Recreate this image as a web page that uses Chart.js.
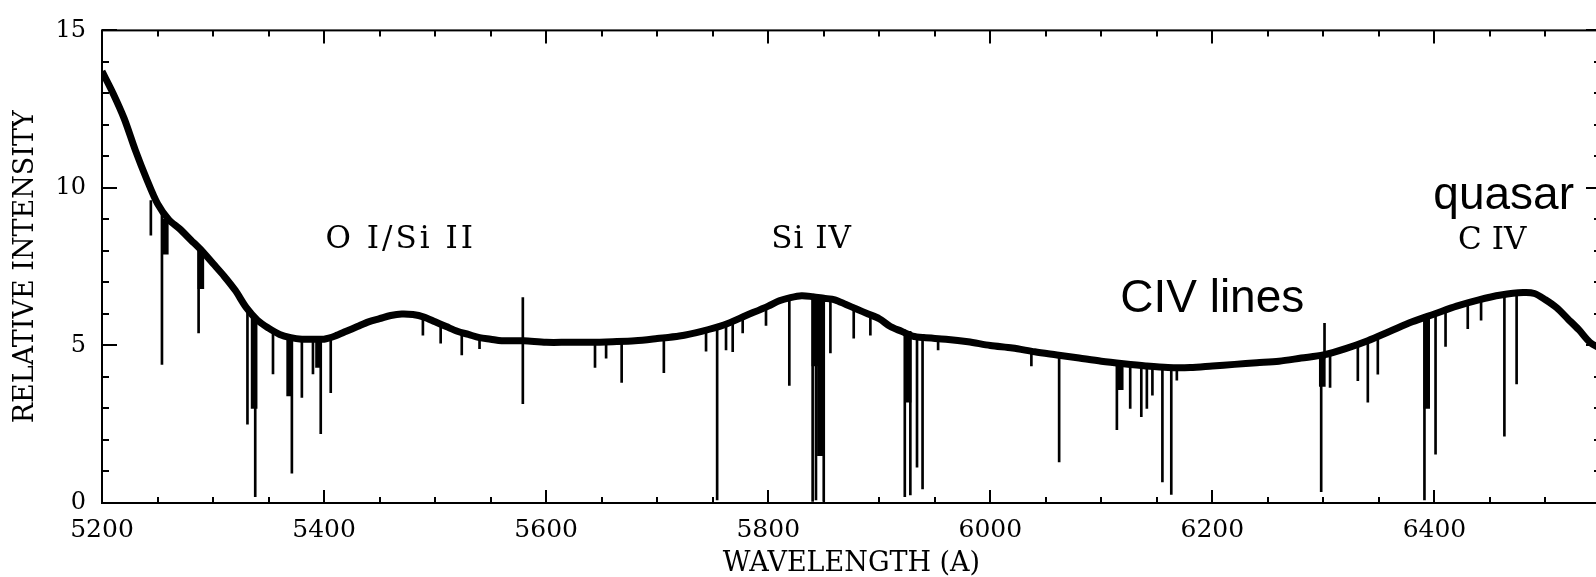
<!DOCTYPE html>
<html>
<head>
<meta charset="utf-8">
<title>Quasar spectrum</title>
<script src="https://cdn.jsdelivr.net/npm/chart.js@4.4.1/dist/chart.umd.min.js"></script>
<style>
  html, body { margin: 0; padding: 0; background: #fff; overflow: hidden; }
  .chart-wrap { position: absolute; left: 0; top: 0; width: 1612px; height: 577px; }
</style>
</head>
<body>
<div class="chart-wrap"><canvas id="spectrumChart"></canvas></div>
<script>
  // continuum of the spectrum (wavelength in A, relative intensity)
  const contWave = [5200, 5210, 5220, 5230, 5240, 5250, 5260, 5270, 5280, 5290,
    5300, 5310, 5320, 5330, 5340, 5350, 5360, 5370, 5380, 5390,
    5400, 5410, 5420, 5430, 5440, 5450, 5460, 5470, 5480, 5490,
    5500, 5510, 5520, 5530, 5540, 5550, 5560, 5570, 5580, 5600,
    5620, 5640, 5660, 5680, 5700, 5720, 5740, 5760, 5780, 5800,
    5810, 5820, 5830, 5840, 5850, 5860, 5870, 5880, 5890, 5900,
    5910, 5920, 5930, 5940, 5960, 5980, 6000, 6020, 6040, 6060,
    6080, 6100, 6120, 6140, 6160, 6180, 6200, 6220, 6240, 6260,
    6280, 6300, 6320, 6340, 6360, 6380, 6400, 6420, 6440, 6460,
    6480, 6490, 6500, 6510, 6520, 6530, 6540, 6550];
  const contFlux = [13.7, 13.0, 12.2, 11.2, 10.3, 9.5, 9.0, 8.7, 8.35, 8.0,
    7.6, 7.2, 6.75, 6.2, 5.8, 5.55, 5.35, 5.25, 5.2, 5.2,
    5.2, 5.3, 5.45, 5.6, 5.75, 5.85, 5.95, 6.0, 5.98, 5.9,
    5.75, 5.6, 5.45, 5.35, 5.25, 5.2, 5.15, 5.15, 5.15, 5.1,
    5.1, 5.1, 5.12, 5.15, 5.22, 5.3, 5.45, 5.65, 5.95, 6.25,
    6.42, 6.52, 6.58, 6.55, 6.5, 6.45, 6.3, 6.15, 6.0, 5.85,
    5.6, 5.45, 5.3, 5.25, 5.2, 5.12, 5.0, 4.92, 4.8, 4.7,
    4.6, 4.5, 4.42, 4.35, 4.3, 4.3, 4.35, 4.4, 4.45, 4.5,
    4.6, 4.7, 4.9, 5.15, 5.45, 5.75, 6.0, 6.25, 6.45, 6.6,
    6.68, 6.65, 6.45, 6.2, 5.85, 5.5, 5.1, 4.9];

  // narrow absorption lines: wavelength, bottom, top
  const lineWave = [5244, 5254, 5287, 5331, 5338, 5354, 5371, 5380, 5390, 5397,
    5406, 5489, 5505, 5524, 5540, 5579, 5644, 5654, 5668, 5706,
    5744, 5754, 5762, 5768, 5777, 5798, 5819, 5840, 5843, 5850,
    5856, 5877, 5892, 5923, 5928, 5934, 5939, 5953, 6037, 6062,
    6114, 6126, 6136, 6141, 6146, 6155, 6163, 6168, 6298, 6301,
    6306, 6331, 6340, 6349, 6391, 6401, 6410, 6430, 6442, 6463, 6474];
  const lineLow = [8.5, 4.4, 5.4, 2.5, 0.2, 4.1, 0.95, 3.35, 4.1, 2.2,
    3.5, 5.33, 5.07, 4.7, 4.9, 3.15, 4.3, 4.6, 3.83, 4.14,
    4.82, 0.1, 4.86, 4.8, 5.4, 5.64, 3.73, 0.05, 0.1, 0.05,
    4.76, 5.23, 5.33, 0.2, 0.26, 1.14, 0.45, 4.86, 4.35, 1.3,
    2.33, 3.0, 2.74, 3.0, 3.42, 0.67, 0.27, 3.9, 0.36, 4.6,
    3.67, 3.88, 3.2, 4.09, 0.1, 1.55, 4.97, 5.53, 5.8, 2.12, 3.78];
  const lineHigh = [9.6, 9.2, 8.1, 6.2, 5.9, 5.5, 5.3, 5.2, 5.2, 5.2,
    5.3, 5.9, 5.7, 5.45, 5.3, 6.52, 5.1, 5.1, 5.15, 5.25,
    5.5, 5.55, 5.65, 5.75, 5.9, 6.25, 6.5, 6.6, 6.6, 6.55,
    6.5, 6.2, 6.0, 5.5, 5.4, 5.3, 5.3, 5.25, 4.85, 4.7,
    4.45, 4.4, 4.35, 4.35, 4.35, 4.3, 4.3, 4.3, 4.7, 5.7,
    4.75, 5.1, 5.2, 5.35, 5.9, 6.0, 6.15, 6.35, 6.45, 6.6, 6.65];

  // broad, blended absorption troughs
  const troughWave = [5257, 5289, 5337, 5369, 5395, 5842, 5847, 5926, 6117, 6299, 6393];
  const troughLow = [7.9, 6.8, 3.0, 3.4, 4.3, 4.35, 1.5, 3.2, 3.6, 3.7, 3.0];
  const troughHigh = [9.0, 8.0, 5.9, 5.3, 5.2, 6.6, 6.55, 5.45, 4.45, 4.7, 5.95];

  const xTicks = [5200, 5400, 5600, 5800, 6000, 6200, 6400];
  const yTicks = [0, 5, 10, 15];

  const labels = [
    { text: "O I/Si II", x: 5469, y: 8.36, font: "31px 'DejaVu Serif'", spacing: "3px", align: "center", baseline: "middle" },
    { text: "Si IV", x: 5839, y: 8.36, font: "31px 'DejaVu Serif'", spacing: "1px", align: "center", baseline: "middle" },
    { text: "C IV", x: 6452, y: 8.33, font: "31px 'DejaVu Serif'", spacing: "0px", align: "center", baseline: "middle" },
    { text: "CIV lines", x: 6117, y: 6.07, font: "46px 'Liberation Sans'", spacing: "0px", align: "left", baseline: "alphabetic" },
    { text: "quasar", x: 6399, y: 9.33, font: "46px 'Liberation Sans'", spacing: "0px", align: "left", baseline: "alphabetic" },
  ];

  const ink = "#000";
  const serif = "'DejaVu Serif', serif";

  const frameTicks = {
    id: "frameTicks",
    afterDatasetsDraw(chart) {
      const { ctx, chartArea: a, scales } = chart;
      const x = scales.x;
      const y = scales.y;
      ctx.save();
      ctx.strokeStyle = ink;
      ctx.lineWidth = 2;
      ctx.strokeRect(a.left, a.top, a.right - a.left, a.bottom - a.top);
      ctx.beginPath();
      for (let w = 5200; w <= 6550; w += 50) {
        const px = Math.round(x.getPixelForValue(w));
        const len = w % 200 === 0 ? 13 : 6;
        ctx.moveTo(px, a.bottom);
        ctx.lineTo(px, a.bottom - len);
        ctx.moveTo(px, a.top);
        ctx.lineTo(px, a.top + len);
      }
      for (let v = 0; v <= 15; v += 1) {
        const py = Math.round(y.getPixelForValue(v));
        const len = v % 5 === 0 ? 15 : 7;
        ctx.moveTo(a.left, py);
        ctx.lineTo(a.left + len, py);
        ctx.moveTo(a.right, py);
        ctx.lineTo(a.right - len, py);
      }
      ctx.stroke();
      ctx.restore();
    },
  };

  const textLabels = {
    id: "textLabels",
    afterDraw(chart) {
      const { ctx, scales } = chart;
      ctx.save();
      ctx.fillStyle = ink;
      labels.forEach((l) => {
        ctx.font = l.font;
        ctx.letterSpacing = l.spacing;
        ctx.textAlign = l.align;
        ctx.textBaseline = l.baseline;
        ctx.fillText(l.text, scales.x.getPixelForValue(l.x), scales.y.getPixelForValue(l.y));
      });
      ctx.restore();
    },
  };

  document.addEventListener("DOMContentLoaded", function () {
    const ctx = document.getElementById("spectrumChart");

    new Chart(ctx, {
      type: "line",
      data: {
        datasets: [
          {
            label: "Spectrum",
            data: contWave.map((w, i) => ({ x: w, y: contFlux[i] })),
            borderColor: ink,
            borderWidth: 7,
            borderJoinStyle: "round",
            pointRadius: 0,
            tension: 0.3,
            fill: false,
          },
          {
            type: "bar",
            label: "Lines",
            data: lineWave.map((w, i) => ({ x: w, y: [lineLow[i], lineHigh[i]] })),
            backgroundColor: ink,
            barThickness: 2,
            grouped: false,
          },
          {
            type: "bar",
            label: "Troughs",
            data: troughWave.map((w, i) => ({ x: w, y: [troughLow[i], troughHigh[i]] })),
            backgroundColor: ink,
            barThickness: 6,
            grouped: false,
          },
        ],
      },
      options: {
        responsive: true,
        maintainAspectRatio: false,
        animation: false,
        layout: { padding: { top: 20, right: 11, left: 0, bottom: 0 } },
        plugins: {
          legend: { display: false },
          tooltip: { enabled: false },
        },
        scales: {
          x: {
            type: "linear",
            min: 5200,
            max: 6550,
            offset: false,
            grid: { display: false, drawTicks: false },
            border: { display: false },
            afterBuildTicks: (scale) => {
              scale.ticks = xTicks.map((v) => ({ value: v }));
            },
            afterFit: (scale) => {
              scale.height = 74;
            },
            ticks: {
              color: ink,
              padding: 12,
              maxRotation: 0,
              font: { family: serif, size: 25 },
              callback: (v) => String(v),
            },
            title: {
              display: true,
              text: "WAVELENGTH (A)",
              color: ink,
              padding: { top: 0, bottom: 0 },
              font: { family: serif, size: 27, lineHeight: 1.0 },
            },
          },
          y: {
            type: "linear",
            min: 0,
            max: 15,
            grid: { display: false, drawTicks: false },
            border: { display: false },
            afterBuildTicks: (scale) => {
              scale.ticks = yTicks.map((v) => ({ value: v }));
            },
            afterFit: (scale) => {
              scale.width = 102;
            },
            ticks: {
              color: ink,
              padding: 16,
              font: { family: serif, size: 24 },
              callback: (v) => String(v),
            },
            title: {
              display: true,
              text: "RELATIVE INTENSITY",
              color: ink,
              padding: { top: 10, bottom: 0 },
              font: { family: serif, size: 27 },
            },
          },
        },
      },
      plugins: [frameTicks, textLabels],
    });
  });
</script>
</body>
</html>
